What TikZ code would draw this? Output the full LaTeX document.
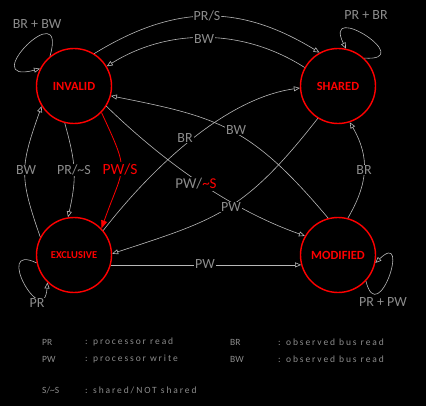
\documentclass[tikz,border=0pt]{standalone}
\usepackage{fontspec}
\setmainfont{Carlito}
\newfontfamily\legendfont[LetterSpace=20]{Carlito}
\usetikzlibrary{arrows.meta}
\definecolor{lin}{rgb}{0.72,0.72,0.72}
\definecolor{txt}{rgb}{0.55,0.55,0.55}
\definecolor{redc}{rgb}{1,0,0}
\begin{document}
\begin{tikzpicture}[x=1pt,y=-1pt,
  state/.style={circle,draw=redc,line width=1.4pt,minimum size=75pt,inner sep=0pt,text=redc,font=\fontsize{12.5}{14}\selectfont\bfseries},
  conn/.style={draw=lin,line width=0.6pt,-{Triangle[open,length=6pt,width=5pt]}},
  plain/.style={draw=lin,line width=0.6pt},
  redconn/.style={draw=redc,line width=0.8pt,-{Triangle[length=8pt,width=6pt]}},
  elabel/.style={fill=black,text=txt,inner sep=1pt,font=\fontsize{14}{16}\selectfont},
  leg/.style={text=txt,inner sep=0pt,anchor=west,font=\fontsize{9.5}{11}\selectfont},
  legd/.style={text=txt,inner sep=0pt,anchor=west,font=\fontsize{9.5}{11}\legendfont}]
\fill[black] (0,0) rectangle (426,406);
\useasboundingbox (0,0) rectangle (426,406);

% states
\node[state] (inv) at (74,86) {INVALID};
\node[state] (shr) at (338,86) {SHARED};
\node[state,font=\fontsize{10.5}{12}\selectfont\bfseries] (exc) at (74,255) {EXCLUSIVE};
\node[state] (mdf) at (338,255) {MODIFIED};

% connectors
\draw[conn] (inv.58) .. controls (175,4) and (240,4) .. (shr.119);
\draw[conn] (shr.151) .. controls (243,28) and (168,28) .. (inv.31);
\draw[conn] (mdf.105) .. controls (250.9,126.1) and (218,117) .. (inv.-15);
\draw[conn] (exc.40) .. controls (145.4,176) and (220.8,99.1) .. (shr.183);
\draw[conn] (inv.-32) .. controls (163.3,161.5) and (229.7,209.3) .. (mdf.150);
\draw[conn] (shr.238) .. controls (244,212.8) and (215.6,219.7) .. (exc.2);
\draw[conn] (exc.-15) -- (mdf.195);
\draw[conn] (mdf.75) .. controls (368.2,183.1) and (370.1,157.3) .. (shr.-72);
\draw[conn] (exc.152) .. controls (19.1,176.5) and (20,167) .. (inv.212);
\draw[conn] (inv.256) .. controls (75.9,163.5) and (77,176.9) .. (exc.99);
\draw[redconn] (inv.-44) .. controls (130.6,175.4) and (124.5,163.5) .. (exc.44);

% self loops
\draw[conn] (inv.129) .. controls (68.5,-8) and (-25,86) .. (inv.153);
\draw[conn] (shr.47) .. controls (418.8,62) and (321.8,-0.6) .. (shr.78);
\draw[conn] (exc.192) .. controls (-7.5,241.6) and (43.9,331.4) .. (exc.226);
\draw[conn] (mdf.-43) .. controls (377.9,329.4) and (411.2,228.2) .. (mdf.-12);

% labels
\node[elabel] (lprs) at (207,16) {PR/S};
\node[elabel] (lbwt) at (204,39) {BW};
\node[elabel] (lii) at (37,24) {BR + BW};
\node[elabel] (lss) at (366,15) {PR + BR};
\node[elabel] (lee) at (37,303) {PR};
\node[elabel] (lmm) at (383,302) {PR + PW};
\node[elabel] (lbwl) at (26,170) {BW};
\node[elabel] (lprns) at (74,170) {PR/\textasciitilde S};
\node[elabel,text=redc,font=\fontsize{15.5}{17}\selectfont] (lpws) at (120,169) {PW/S};
\node[elabel] (lbrm) at (185,138) {BR};
\node[elabel] (lbwm) at (236,130) {BW};
\node[elabel,font=\fontsize{15}{17}\selectfont] (lpwns) at (196,184) {PW/\textcolor{redc}{\textasciitilde S}};
\node[elabel] (lpwm) at (231,207) {PW};
\node[elabel] (lpwb) at (205,264) {PW};
\node[elabel] (lbrr) at (364,170) {BR};

% legend
\node[leg] (k1) at (42,342) {PR};
\node[legd] (d1) at (85,342) {: processor read};
\node[leg] (k2) at (230,342) {BR};
\node[legd] (d2) at (278,342) {: observed bus read};
\node[leg] (k3) at (42,359) {PW};
\node[legd] (d3) at (85,359) {: processor write};
\node[leg] (k4) at (230,359) {BW};
\node[legd] (d4) at (278,359) {: observed bus read};
\node[leg] (k5) at (42,390) {S/\textasciitilde S};
\node[legd] (d5) at (85,390) {: shared/NOT shared};
\end{tikzpicture}
\end{document}
